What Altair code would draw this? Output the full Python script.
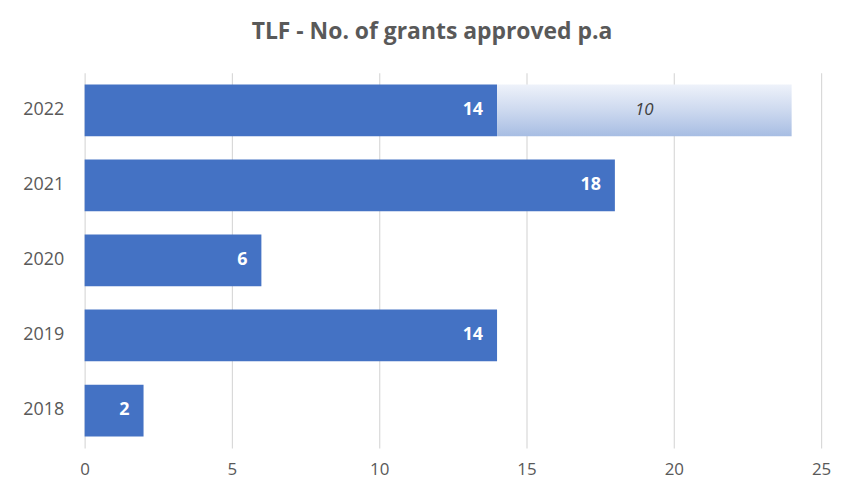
import altair as alt
import pandas as pd

years = ["2022", "2021", "2020", "2019", "2018"]
approved = [14, 18, 6, 14, 2]
proj_year = ["2022"]
proj_extra = [10]

df = pd.DataFrame({"year": years, "value": approved})
dp = pd.DataFrame({"year": proj_year, "extra": proj_extra})
dp["start"] = [approved[years.index(y)] for y in proj_year]
dp["end"] = dp["start"] + dp["extra"]

y_enc = alt.Y("year:N", sort=years, title=None,
              scale=alt.Scale(paddingInner=0.31, paddingOuter=0.155),
              axis=alt.Axis(labelFont="Open Sans", labelFontSize=18, labelColor="#595959",
                            ticks=False, domain=False, labelPadding=21))
x_enc = alt.X("value:Q", title=None,
              scale=alt.Scale(domain=[0, 25], nice=False),
              axis=alt.Axis(values=[0, 5, 10, 15, 20, 25], labelFont="Open Sans", labelFontSize=17,
                            labelColor="#595959", ticks=False, domain=False, gridColor="#d9d9d9",
                            gridWidth=1.2, labelPadding=14, labelFlush=False))

bars = alt.Chart(df).mark_bar(color="#4472C4").encode(y=y_enc, x=x_enc)
labels = alt.Chart(df).mark_text(align="right", dx=-14, color="white", font="Open Sans",
                                 fontWeight="bold", fontSize=18).encode(
    y=alt.Y("year:N", sort=years), x="value:Q", text="value:Q")

grad = alt.LinearGradient(gradient="linear", x1=0, y1=0, x2=0, y2=1,
                          stops=[alt.GradientStop(color="#eef2fa", offset=0),
                                 alt.GradientStop(color="#cdd9ef", offset=0.5),
                                 alt.GradientStop(color="#a7bde3", offset=1)])
proj = alt.Chart(dp).mark_bar(color=grad).encode(
    y=alt.Y("year:N", sort=years), x="start:Q", x2="end:Q")
proj_lbl = alt.Chart(dp).transform_calculate(mid="(datum.start + datum.end) / 2").mark_text(
    color="#404040", font="Open Sans", fontStyle="italic", fontSize=17).encode(
    y=alt.Y("year:N", sort=years), x="mid:Q", text="extra:Q")

chart = alt.layer(bars, proj, labels, proj_lbl).properties(
    width=740, height=377,
    background="white",
    title=alt.TitleParams("TLF - No. of grants approved p.a", font="Open Sans", fontSize=23,
                          fontWeight="bold", color="#595959", offset=29, dx=-21),
    autosize=alt.AutoSizeParams(type="none"),
    padding={"left": 77, "top": 64, "right": 20, "bottom": 40},
).configure_view(stroke=None)

chart.save("out.html", embed_options={"renderer": "svg", "actions": False})
